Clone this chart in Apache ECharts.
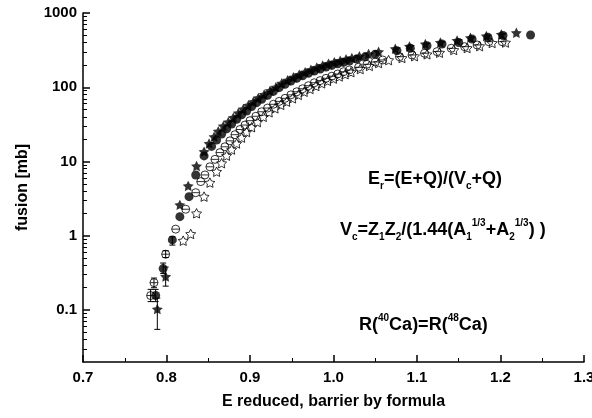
<!DOCTYPE html>
<html><head><meta charset="utf-8">
<script src="https://cdn.jsdelivr.net/npm/echarts@6/dist/echarts.min.js"></script>
<style>html,body{margin:0;padding:0;background:#fff}#c{width:592px;height:418px}</style>
</head><body><div id="c"></div>
<script>
// ---- data ----
const xTickLabels = [0.7, 0.8, 0.9, 1.0, 1.1, 1.2, 1.3];
const yTickLabels = [0.1, 1, 10, 100, 1000];
const yMinorTicks = [0.03, 0.04, 0.05, 0.06, 0.07, 0.08, 0.09,
  0.2, 0.3, 0.4, 0.5, 0.6, 0.7, 0.8, 0.9,
  2, 3, 4, 5, 6, 7, 8, 9,
  20, 30, 40, 50, 60, 70, 80, 90,
  200, 300, 400, 500, 600, 700, 800, 900];

const filledStars = [[0.789,0.103],[0.799,0.283],[0.816,2.61],[0.826,4.70],[0.836,8.7],[0.845,13.6],
  [0.851,17.5],[0.857,21.5],[0.862,25.5],[0.868,30],[0.874,34],[0.880,39],[0.886,45],[0.892,51],[0.898,57],
  [0.904,64],[0.910,72],[0.917,80],[0.924,90],[0.931,100],[0.938,113],[0.945,124],[0.952,136],[0.959,148],
  [0.966,160],[0.973,172],[0.980,185],[0.987,196],[0.994,208],[1.001,218],[1.008,228],[1.015,238],[1.022,248],
  [1.031,262],[1.042,281],[1.054,300],[1.074,330],[1.091,355],[1.110,382],[1.128,400],[1.148,425],[1.164,465],
  [1.183,490],[1.201,515],[1.219,543]];

const filledCircles = [[0.787,0.157],[0.796,0.362],[0.807,0.88],[0.816,1.81],[0.827,3.37],[0.835,6.6],[0.845,11.9],
  [0.854,16],[0.860,19.5],[0.866,23.5],[0.872,27.5],[0.878,32],[0.884,37],[0.890,42.5],[0.896,48],[0.902,55],
  [0.908,62],[0.914,69],[0.921,78],[0.928,88],[0.935,99],[0.942,110],[0.949,121],[0.956,132],[0.963,143],
  [0.970,154],[0.977,165],[0.984,176],[0.991,187],[0.998,197],[1.005,207],[1.012,216],[1.019,226],[1.028,240],
  [1.038,257],[1.050,278],[1.076,310],[1.092,335],[1.112,362],[1.130,382],[1.150,400],[1.166,445],[1.185,470],
  [1.203,497],[1.236,506]];

const openCircles = [[0.781,0.157],[0.785,0.234],[0.799,0.565],[0.811,1.23],[0.823,2.28],[0.835,3.81],[0.841,5.37],[0.846,6.6],
  [0.852,8.5],[0.858,10.7],[0.864,13.2],[0.870,15.8],[0.876,19],[0.882,23],[0.888,27],[0.894,31],[0.900,35.5],
  [0.907,40.7],[0.914,46.8],[0.921,52.5],[0.928,59],[0.935,64.6],[0.942,71],[0.949,79],[0.956,87],[0.963,95.5],
  [0.970,105],[0.977,115],[0.984,123],[0.991,132],[0.998,141],[1.005,151],[1.012,162],[1.019,171],[1.030,186],
  [1.040,204],[1.050,219],[1.059,233],[1.079,258],[1.094,272],[1.109,287],[1.124,302],[1.141,335],[1.157,352],
  [1.172,371],[1.186,411],[1.202,411]];

const openStars = [[0.820,0.86],[0.829,1.06],[0.836,2.01],[0.845,3.37],[0.852,5.2],[0.860,7.3],
  [0.866,9.5],[0.872,12],[0.878,14.5],[0.884,17.5],[0.890,21],[0.896,25],[0.902,29],[0.909,34],[0.916,40],
  [0.923,46],[0.930,52],[0.937,58],[0.944,64],[0.951,71],[0.958,79],[0.965,87],[0.972,95],[0.979,104],
  [0.986,113],[0.993,122],[1.000,131],[1.007,140],[1.014,150],[1.021,160],[1.032,176],[1.043,194],[1.054,212],
  [1.066,232],[1.082,248],[1.097,262],[1.112,278],[1.127,292],[1.144,318],[1.160,338],[1.175,358],[1.190,395],
  [1.206,400]];

// [x, low, high]
const errorBars = [[0.781,0.13,0.19],[0.787,0.13,0.19],[0.785,0.20,0.27],[0.789,0.055,0.145],
  [0.796,0.31,0.43],[0.799,0.21,0.38],[0.799,0.51,0.63],[0.807,0.75,0.97]];

// ---- chart ----
const FONT = 'Liberation Sans, Arial, Helvetica, sans-serif';
const STAR = 'path://M0,-10L2.94,-4.05L9.51,-3.09L4.76,1.55L5.88,8.09L0,5L-5.88,8.09L-4.76,1.55L-9.51,-3.09L-2.94,-4.05Z';
const OCIRC = 'path://M-10,0A10,10 0 1,1 10,0A10,10 0 1,1 -10,0ZM-10,0L10,0';
const chart = echarts.init(document.getElementById('c'), null, {renderer: 'canvas'});

const tickTxt = {color: '#000', fontFamily: FONT, fontWeight: 'bold', fontSize: 15};
const nameTxt = {color: '#000', fontFamily: FONT, fontWeight: 'bold', fontSize: 16};
const m = {fontFamily: FONT, fontWeight: 'bold', fontSize: 18, color: '#000', lineHeight: 24, verticalAlign: 'middle'};
const sub = {fontFamily: FONT, fontWeight: 'bold', fontSize: 10, color: '#000', lineHeight: 9, verticalAlign: 'bottom'};
const sup = {fontFamily: FONT, fontWeight: 'bold', fontSize: 10, color: '#000', lineHeight: 9, verticalAlign: 'top'};
const rich = {m, sub, sup};

const option = {
  animation: false,
  backgroundColor: '#fff',
  grid: {left: 83, right: 8, top: 13, bottom: 56, containLabel: false, outerBoundsMode: 'none'},
  xAxis: {
    type: 'value', min: 0.7, max: 1.3, interval: 0.1,
    name: 'E reduced, barrier by formula', nameLocation: 'middle', nameGap: 32,
    nameTextStyle: nameTxt,
    axisLine: {lineStyle: {color: '#000', width: 1.5}},
    axisTick: {inside: true, length: 7, lineStyle: {color: '#000', width: 1.5}},
    minorTick: {show: true, splitNumber: 2, length: 4, lineStyle: {color: '#000', width: 1}},
    axisLabel: Object.assign({margin: 8, formatter: v => (+v).toFixed(1), showMaxLabel: true, showMinLabel: true}, tickTxt),
    splitLine: {show: false}
  },
  yAxis: [{
    type: 'log', logBase: 10, min: 0.02, max: 1000, position: 'left',
    name: 'fusion [mb]', nameLocation: 'middle', nameGap: 52, nameRotate: 90,
    nameTextStyle: nameTxt,
    axisLine: {show: true, lineStyle: {color: '#000', width: 1.5}},
    axisTick: {inside: true, length: 7, customValues: yTickLabels, lineStyle: {color: '#000', width: 1.5}},
    axisLabel: Object.assign({margin: 6, customValues: yTickLabels, formatter: v => String(+v)}, tickTxt),
    splitLine: {show: false}
  }, {
    type: 'log', logBase: 10, min: 0.02, max: 1000, position: 'left', offset: 0,
    axisLine: {show: false},
    axisTick: {inside: true, length: 4, customValues: yMinorTicks, lineStyle: {color: '#000', width: 1}},
    axisLabel: {show: false},
    splitLine: {show: false}
  }],
  graphic: [
    {type: 'text', left: 368, top: 170, style: {text: '{m|E}{sub|r}{m|=(E+Q)/(V}{sub|c}{m|+Q)}', rich}},
    {type: 'text', left: 340, top: 218, style: {text: '{m|V}{sub|c}{m|=Z}{sub|1}{m|Z}{sub|2}{m|/(1.44(A}{sub|1}{sup|1/3}{m|+A}{sub|2}{sup|1/3}{m|) )}', rich}},
    {type: 'text', left: 359, top: 313, style: {text: '{m|R(}{sup|40}{m|Ca)=R(}{sup|48}{m|Ca)}', rich}}
  ],
  series: [
    {
      type: 'custom', name: 'err', yAxisIndex: 0, z: 1,
      data: errorBars,
      encode: {x: 0, y: [1, 2]},
      renderItem: (params, api) => {
        const x = api.value(0), lo = api.value(1), hi = api.value(2);
        const p1 = api.coord([x, lo]), p2 = api.coord([x, hi]);
        const w = 3, st = {stroke: '#000', lineWidth: 1};
        return {type: 'group', children: [
          {type: 'line', shape: {x1: p1[0], y1: p1[1], x2: p2[0], y2: p2[1]}, style: st},
          {type: 'line', shape: {x1: p1[0] - w, y1: p1[1], x2: p1[0] + w, y2: p1[1]}, style: st},
          {type: 'line', shape: {x1: p2[0] - w, y1: p2[1], x2: p2[0] + w, y2: p2[1]}, style: st}
        ]};
      }
    },
    {type: 'scatter', name: 'open circles', yAxisIndex: 0, z: 2, data: openCircles, symbol: OCIRC, symbolSize: 8, symbolKeepAspect: true,
      itemStyle: {color: 'rgba(255,255,255,0)', borderColor: '#000', borderWidth: 1}},
    {type: 'scatter', name: 'open stars', yAxisIndex: 0, z: 2, data: openStars, symbol: STAR, symbolSize: 10, symbolKeepAspect: true,
      itemStyle: {color: 'rgba(255,255,255,0)', borderColor: '#000', borderWidth: 1}},
    {type: 'scatter', name: 'filled circles', yAxisIndex: 0, z: 3, data: filledCircles, symbol: 'circle', symbolSize: 9,
      itemStyle: {color: '#000'}},
    {type: 'scatter', name: 'filled stars', yAxisIndex: 0, z: 3, data: filledStars, symbol: STAR, symbolSize: 11, symbolKeepAspect: true,
      itemStyle: {color: '#000'}}
  ]
};
chart.setOption(option);
</script>
</body></html>
